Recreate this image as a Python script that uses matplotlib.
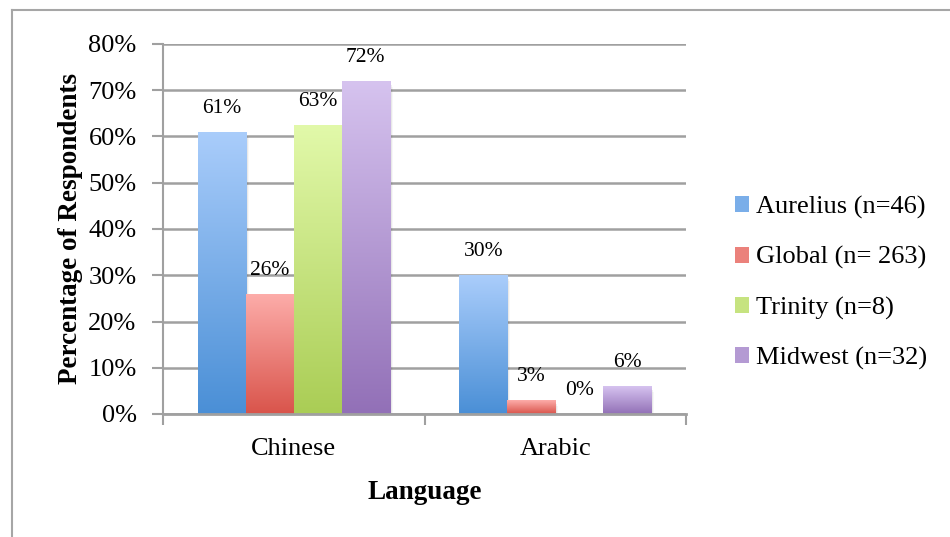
import numpy as np
import matplotlib
matplotlib.use("Agg")
import matplotlib.pyplot as plt
from matplotlib.colors import LinearSegmentedColormap
from matplotlib.patches import Rectangle
from matplotlib.lines import Line2D

plt.rcParams['font.family'] = ['Liberation Serif', 'DejaVu Serif']

# Data
categories = ["Chinese", "Arabic"]
series_names = ["Aurelius (n=46)", "Global (n= 263)", "Trinity (n=8)", "Midwest (n=32)"]
values = {
    "Aurelius (n=46)": [61, 30],
    "Global (n= 263)": [26, 3],
    "Trinity (n=8)": [62.5, 0],
    "Midwest (n=32)": [72, 6],
}
value_labels = {
    "Aurelius (n=46)": ["61%", "30%"],
    "Global (n= 263)": ["26%", "3%"],
    "Trinity (n=8)": ["63%", "0%"],
    "Midwest (n=32)": ["72%", "6%"],
}
y_ticks = [0, 10, 20, 30, 40, 50, 60, 70, 80]
y_tick_labels = ["0%", "10%", "20%", "30%", "40%", "50%", "60%", "70%", "80%"]

# Gradient colours (top, bottom) per series
gradients = {
    "Aurelius (n=46)": ("#aacdfb", "#4a8fd6"),
    "Global (n= 263)": ("#fdadaa", "#d9544b"),
    "Trinity (n=8)": ("#e2f9aa", "#aacd55"),
    "Midwest (n=32)": ("#d6c3ef", "#9270b7"),
}

fig = plt.figure(figsize=(9.5, 5.37), dpi=100)
ax = fig.add_axes([163 / 950, 1 - 414 / 537, (686 - 163) / 950, (414 - 44) / 537])

# outer chart frame
fig.add_artist(Line2D([11.5 / 950, 11.5 / 950], [0, 1 - 9.5 / 537], transform=fig.transFigure,
                      color="#a6a6a6", lw=1.5))
fig.add_artist(Line2D([11.5 / 950, 1], [1 - 9.5 / 537, 1 - 9.5 / 537], transform=fig.transFigure,
                      color="#a6a6a6", lw=1.5))

x = np.arange(len(categories))
bar_w = 0.1836
n = len(series_names)
grad = np.linspace(0, 1, 256).reshape(-1, 1)

for i, name in enumerate(series_names):
    offs = (i - (n - 1) / 2) * bar_w
    top_c, bot_c = gradients[name]
    cmap = LinearSegmentedColormap.from_list(name, [bot_c, top_c])
    bars = ax.bar(x + offs, values[name], width=bar_w, color="none", edgecolor="none", zorder=3)
    for b, lab in zip(bars, value_labels[name]):
        x0, w, h = b.get_x(), b.get_width(), b.get_height()
        if h > 0:
            # soft drop shadow
            for k, a in enumerate([0.10, 0.06, 0.03]):
                sh = Rectangle((x0 + 0.004 * (k + 1), -0.4 * (k + 1)), w, h,
                               facecolor="#000000", alpha=a, edgecolor="none", zorder=2)
                ax.add_patch(sh)
            im = ax.imshow(grad, extent=[x0, x0 + w, 0, h], origin="lower", cmap=cmap,
                           aspect="auto", zorder=3, interpolation="bilinear")
            im.set_clip_path(b)
        ax.annotate(lab, (x0 + w / 2, h), xytext=(0, 17), textcoords="offset points",
                    ha="center", va="center", fontsize=15.5, zorder=5)

ax.set_xlim(-0.5, 1.5)
ax.set_ylim(0, 80)
ax.set_yticks(y_ticks)
ax.set_yticklabels(y_tick_labels, fontsize=19)
ax.set_xticks([-0.5, 0.5, 1.5])
ax.set_xticklabels([])
ax.set_xticks(x, minor=True)
ax.set_xticklabels(categories, minor=True, fontsize=19)
ax.tick_params(axis="x", which="minor", length=0, pad=17)
ax.tick_params(axis="x", which="major", length=8, width=1.5, color="#a0a0a0")
ax.tick_params(axis="y", length=8, width=1.5, color="#a0a0a0", pad=11)

ax.yaxis.grid(True, color="#a0a0a0", lw=1.8, zorder=0)
ax.set_axisbelow(True)
for s in ["top", "right"]:
    ax.spines[s].set_visible(False)
ax.spines["left"].set_color("#a0a0a0")
ax.spines["left"].set_linewidth(1.5)
ax.spines["bottom"].set_color("#a0a0a0")
ax.spines["bottom"].set_linewidth(2)
ax.spines["bottom"].set_zorder(6)

ax.set_ylabel("Percentage of Respondents", fontsize=19.5, fontweight="bold", labelpad=4)
ax.set_xlabel("Language", fontsize=19.5, fontweight="bold", labelpad=15)

# legend with square swatches
handles = []
for nm in series_names:
    top_c, bot_c = gradients[nm]
    mid = LinearSegmentedColormap.from_list("m", [bot_c, top_c])(0.5)
    handles.append(Rectangle((0, 0), 1, 1, facecolor=mid, edgecolor="none"))
leg = fig.legend(handles, series_names, loc="center left", bbox_to_anchor=(724 / 950, 1 - 283 / 537),
                 frameon=False, fontsize=19, handlelength=0.55, handleheight=0.55,
                 handletextpad=0.25, labelspacing=1.03, borderaxespad=0)

fig.savefig("out.png", dpi=100)
